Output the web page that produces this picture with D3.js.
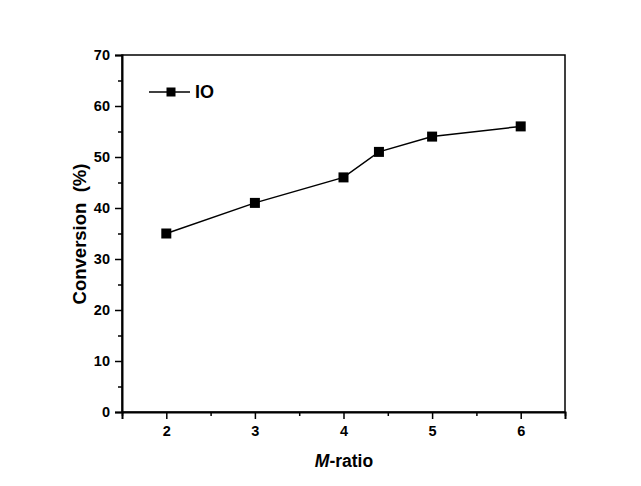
<!DOCTYPE html>
<html><head><meta charset="utf-8">
<script src="https://cdn.jsdelivr.net/npm/d3@7"></script>
<style>body{margin:0;background:#fff}svg{display:block}text{font-family:Arial,"Liberation Sans",sans-serif;}</style>
</head><body>
<script>
const xValues = [2, 3, 4, 4.4, 5, 6];
const conversion = [35, 41, 46, 51, 54, 56];
const seriesName = "IO";
const xTicks = [2, 3, 4, 5, 6];
const yTicks = [0, 10, 20, 30, 40, 50, 60, 70];

const W = 641, H = 486;
const m = {l: 122, r: 641 - 565, t: 55, b: 486 - 412};
const svg = d3.select("body").append("svg").attr("width", W).attr("height", H);
const x = d3.scaleLinear().domain([1.5, 6.5]).range([m.l, W - m.r]);
const y = d3.scaleLinear().domain([0, 70]).range([H - m.b, m.t]);

// frame
svg.append("rect").attr("x", m.l).attr("y", m.t).attr("width", W - m.r - m.l).attr("height", H - m.b - m.t)
  .attr("fill", "none").attr("stroke", "#000").attr("stroke-width", 1.5);

// x axis
svg.append("g").attr("transform", `translate(0,${H - m.b})`)
  .call(d3.axisBottom(x).tickValues(xTicks).tickSize(7).tickPadding(7).tickFormat(d3.format("d")));
svg.append("g").attr("transform", `translate(0,${H - m.b})`)
  .call(d3.axisBottom(x).tickValues([1.5, 2.5, 3.5, 4.5, 5.5, 6.5]).tickSize(4).tickFormat(""))
  .call(g => g.select(".domain").remove());
// y axis
svg.append("g").attr("transform", `translate(${m.l},0)`)
  .call(d3.axisLeft(y).tickValues(yTicks).tickSize(7).tickPadding(5));
svg.append("g").attr("transform", `translate(${m.l},0)`)
  .call(d3.axisLeft(y).tickValues([5, 15, 25, 35, 45, 55, 65]).tickSize(4).tickFormat(""))
  .call(g => g.select(".domain").remove());
svg.selectAll(".domain").attr("stroke-width", 2);
svg.selectAll(".tick line").attr("stroke-width", 1.5);
svg.selectAll(".tick text").attr("font-size", 14.5).attr("font-weight", "bold").attr("fill", "#000");

// line
const pts = xValues.map((v, i) => [v, conversion[i]]);
svg.append("path").datum(pts)
  .attr("d", d3.line().x(d => x(d[0])).y(d => y(d[1])))
  .attr("fill", "none").attr("stroke", "#000").attr("stroke-width", 1.5);
const ms = 10;
svg.selectAll(".pt").data(pts).enter().append("rect")
  .attr("x", d => x(d[0]) - ms / 2).attr("y", d => y(d[1]) - ms / 2)
  .attr("width", ms).attr("height", ms).attr("fill", "#000");

// legend
const lg = svg.append("g");
lg.append("line").attr("x1", 149).attr("x2", 190).attr("y1", 92).attr("y2", 92).attr("stroke", "#000").attr("stroke-width", 1.5);
lg.append("rect").attr("x", 171 - 4.5).attr("y", 92 - 4.5).attr("width", 9).attr("height", 9).attr("fill", "#000");
lg.append("text").attr("x", 195).attr("y", 92).attr("dy", "0.36em").attr("font-size", 18).attr("font-weight", "bold").text(seriesName);

// axis titles
svg.append("text").attr("transform", `translate(86,${234}) rotate(-90)`)
  .attr("text-anchor", "middle").attr("font-size", 18.5).attr("font-weight", "bold").attr("xml:space", "preserve")
  .text("Conversion  (%)");
const xt = svg.append("text").attr("x", 344).attr("y", 467)
  .attr("text-anchor", "middle").attr("font-size", 17.5).attr("font-weight", "bold");
xt.append("tspan").attr("font-style", "italic").text("M");
xt.append("tspan").text("-ratio");
</script>
</body></html>
